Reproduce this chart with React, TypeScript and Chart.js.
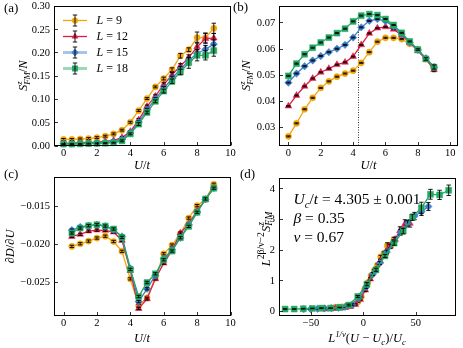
import { useEffect, useRef } from 'react';
import { Chart, registerables } from 'chart.js';
Chart.register(...registerables);

const W = 463;
const H = 348;

// ---------- data ----------
const U_FULL = [0, 0.5, 1, 1.5, 2, 2.5, 3, 3.5, 4, 4.5, 5, 5.5, 6, 6.5, 7, 7.5, 8, 8.5, 9];
const U_C = [0.5, 1, 1.5, 2, 2.5, 3, 3.5, 4, 4.5, 5, 5.5, 6, 6.5, 7, 7.5, 8, 8.5, 9];
const SIZES = ['9', '12', '15', '18'];

// (a) S_FM / N
const A9 = [0.013, 0.013, 0.014, 0.015, 0.017, 0.020, 0.025, 0.033, 0.050, 0.075, 0.101, 0.126, 0.144, 0.163, 0.193, 0.206, 0.232, 0.232, 0.252];
const A12 = [0.005, 0.005, 0.006, 0.0065, 0.007, 0.0087, 0.011, 0.017, 0.030, 0.055, 0.084, 0.106, 0.131, 0.152, 0.171, 0.189, 0.212, 0.230, 0.231];
const A15 = [0.004, 0.004, 0.0045, 0.005, 0.0055, 0.0065, 0.008, 0.013, 0.027, 0.050, 0.077, 0.100, 0.123, 0.144, 0.164, 0.183, 0.198, 0.207, 0.218];
const A18 = [0.003, 0.003, 0.0035, 0.004, 0.0045, 0.005, 0.006, 0.010, 0.025, 0.046, 0.071, 0.095, 0.117, 0.138, 0.158, 0.178, 0.194, 0.194, 0.204];
const EA9 = [0.002, 0.002, 0.002, 0.002, 0.002, 0.002, 0.002, 0.002, 0.002, 0.002, 0.002, 0.002, 0.003, 0.004, 0.005, 0.004, 0.012, 0.010, 0.011];
const EA12 = [0.001, 0.001, 0.001, 0.001, 0.001, 0.001, 0.001, 0.002, 0.002, 0.003, 0.003, 0.003, 0.004, 0.005, 0.005, 0.006, 0.010, 0.011, 0.010];
const EA15 = [0.001, 0.001, 0.001, 0.001, 0.001, 0.001, 0.001, 0.002, 0.002, 0.003, 0.003, 0.003, 0.004, 0.005, 0.006, 0.006, 0.008, 0.008, 0.009];
const EA18 = [0.001, 0.001, 0.001, 0.001, 0.001, 0.001, 0.001, 0.002, 0.002, 0.003, 0.003, 0.003, 0.004, 0.005, 0.006, 0.012, 0.012, 0.010, 0.012];

// (b) S^z_FM / N
const B9 = [0.0263, 0.0313, 0.0367, 0.0411, 0.0449, 0.0474, 0.0492, 0.0504, 0.0515, 0.0545, 0.0586, 0.0626, 0.0641, 0.0641, 0.0636, 0.0618, 0.0596, 0.0560, 0.0524];
const B12 = [0.0379, 0.0420, 0.0455, 0.0485, 0.0509, 0.0523, 0.0538, 0.0547, 0.0569, 0.0614, 0.0658, 0.0678, 0.0683, 0.0674, 0.0651, 0.0622, 0.0591, 0.0558, 0.0519];
const B15 = [0.0469, 0.0504, 0.0532, 0.0554, 0.0571, 0.0586, 0.0599, 0.0614, 0.0642, 0.0681, 0.0706, 0.0713, 0.0705, 0.0685, 0.0655, 0.0623, 0.0594, 0.0563, 0.0529];
const B18 = [0.0495, 0.0542, 0.0578, 0.0603, 0.0623, 0.0642, 0.0659, 0.0676, 0.0704, 0.0726, 0.0732, 0.0728, 0.0713, 0.0690, 0.0660, 0.0627, 0.0596, 0.0560, 0.0529];
const EB = [0.0002, 0.0002, 0.0002, 0.0002, 0.0002, 0.0002, 0.0002, 0.0002, 0.0002, 0.0002, 0.0002, 0.0002, 0.0002, 0.0002, 0.0002, 0.0002, 0.0003, 0.0005, 0.0008];
const U_CRIT = 4.305;
const U_CRIT_LINE_TOP = 0.0735;

// (c) dD/dU
const C9 = [-0.02035, -0.0200, -0.01965, -0.01925, -0.0190, -0.0197, -0.0210, -0.02465, -0.02819, -0.02717, -0.02451, -0.02133, -0.02018, -0.01867, -0.0166, -0.01496, -0.01411, -0.01212];
const C12 = [-0.01903, -0.01876, -0.01832, -0.01819, -0.01823, -0.01845, -0.01956, -0.02354, -0.02858, -0.0273, -0.02465, -0.02257, -0.02088, -0.01858, -0.01735, -0.01562, -0.01416, -0.01257];
const C15 = [-0.01819, -0.01779, -0.01761, -0.01748, -0.01766, -0.01814, -0.01903, -0.02327, -0.02766, -0.02597, -0.0242, -0.02199, -0.0208, -0.0192, -0.01748, -0.0158, -0.01411, -0.01261];
const C18 = [-0.01858, -0.01792, -0.01761, -0.01748, -0.01766, -0.01805, -0.01916, -0.0234, -0.02699, -0.02513, -0.02398, -0.02212, -0.02097, -0.0192, -0.0177, -0.01584, -0.01407, -0.01265];
const EC = [0.00015, 0.00015, 0.00015, 0.00015, 0.00015, 0.00015, 0.00015, 0.00015, 0.00015, 0.00015, 0.00015, 0.00015, 0.00015, 0.00015, 0.00015, 0.00015, 0.00015, 0.00015];

// (d) data collapse
const D9X = [-26.6, -23.5, -20.4, -17.3, -14.2, -11.1, -8.1, -5.0, -1.9, 1.2, 4.3, 7.4, 10.5, 13.5, 16.6, 19.7, 22.8, 25.9, 29.0];
const D9Y = [0.12, 0.12, 0.13, 0.14, 0.16, 0.18, 0.23, 0.30, 0.46, 0.69, 0.92, 1.15, 1.32, 1.49, 1.76, 1.88, 2.12, 2.12, 2.30];
const D12X = [-40.8, -36.1, -31.3, -26.6, -21.8, -17.1, -12.4, -7.6, -2.9, 1.9, 6.6, 11.3, 16.1, 20.8, 25.5, 30.3, 35.0, 39.8, 44.5];
const D12Y = [0.06, 0.06, 0.07, 0.08, 0.09, 0.11, 0.14, 0.21, 0.37, 0.68, 1.04, 1.31, 1.62, 1.88, 2.11, 2.33, 2.62, 2.84, 2.85];
const D15X = [-56.9, -50.3, -43.7, -37.1, -30.5, -23.9, -17.3, -10.6, -4.0, 2.6, 9.2, 15.8, 22.4, 29.0, 35.6, 42.3, 48.9, 55.5, 62.1];
const D15Y = [0.06, 0.06, 0.07, 0.08, 0.09, 0.10, 0.13, 0.20, 0.42, 0.78, 1.20, 1.56, 1.92, 2.24, 2.56, 2.85, 3.09, 3.23, 3.40];
const D18X = [-74.7, -66.0, -57.4, -48.7, -40.0, -31.3, -22.6, -14.0, -5.3, 3.4, 12.1, 20.7, 29.4, 38.1, 46.8, 55.4, 64.1, 72.8, 81.5];
const D18Y = [0.06, 0.06, 0.07, 0.08, 0.09, 0.09, 0.11, 0.19, 0.47, 0.87, 1.34, 1.79, 2.21, 2.60, 3.05, 3.36, 3.80, 3.78, 3.93];
const ED9 = [0.02, 0.02, 0.02, 0.02, 0.02, 0.02, 0.02, 0.02, 0.02, 0.02, 0.02, 0.02, 0.03, 0.04, 0.05, 0.04, 0.10, 0.09, 0.10];
const ED12 = [0.01, 0.01, 0.01, 0.01, 0.01, 0.01, 0.01, 0.02, 0.02, 0.04, 0.04, 0.04, 0.05, 0.06, 0.06, 0.07, 0.12, 0.13, 0.12];
const ED15 = [0.01, 0.01, 0.01, 0.01, 0.01, 0.01, 0.01, 0.03, 0.03, 0.05, 0.05, 0.05, 0.06, 0.08, 0.09, 0.09, 0.12, 0.12, 0.13];
const ED18 = [0.01, 0.01, 0.01, 0.01, 0.01, 0.01, 0.01, 0.03, 0.03, 0.05, 0.05, 0.05, 0.07, 0.09, 0.10, 0.18, 0.16, 0.15, 0.17];

// ticks
const A_XTICKS = [0, 2, 4, 6, 8, 10];
const A_XLABELS = ['0', '2', '4', '6', '8', '10'];
const A_YTICKS = [0, 0.05, 0.1, 0.15, 0.2, 0.25, 0.3];
const A_YLABELS = ['0.00', '0.05', '0.10', '0.15', '0.20', '0.25', '0.30'];
const B_YTICKS = [0.03, 0.04, 0.05, 0.06, 0.07];
const B_YLABELS = ['0.03', '0.04', '0.05', '0.06', '0.07'];
const C_YTICKS = [-0.025, -0.02, -0.015];
const C_YLABELS = ['\u22120.025', '\u22120.020', '\u22120.015'];
const D_XTICKS = [-50, 0, 50];
const D_XLABELS = ['\u221250', '0', '50'];
const D_YTICKS = [0, 1, 2, 3, 4];
const D_YLABELS = ['0', '1', '2', '3', '4'];

// ---------- styles ----------
const COLORS = ['#F2A60C', '#DC1E46', '#3F7FCC', '#22A862'];
const LEGEND_LINE = [
  { w: 1.3, a: 1 },
  { w: 1.3, a: 1 },
  { w: 3, a: 0.45 },
  { w: 3, a: 0.45 },
];
const MARKERS = ['circle', 'triangle', 'rectRot', 'rect'];
const RADII = [3.1, 3.9, 3.7, 4.2];
const FONT = '"Liberation Serif", "DejaVu Serif", serif';

type Seg = { t?: string; i?: boolean; sup?: string; sub?: string; supI?: boolean; subI?: boolean };
type Series = { x: number[]; y: number[]; e: number[] };
type Panel = {
  frame: [number, number, number, number];
  xr: [number, number];
  yr: [number, number];
  xt: number[];
  xl: string[];
  yt: number[];
  yl: string[];
  series: Series[];
  xTitle: Seg[];
  xTitleY: number;
  yTitle: Seg[];
  yTitleX: number;
  yTitleY?: number;
  yTitleSize?: number;
  yTitleScr?: number;
  label: string;
  labelPos: [number, number];
  legend?: boolean;
  kind: 'a' | 'b' | 'c' | 'd';
};

const fnt = (size: number, italic?: boolean) => `${italic ? 'italic ' : ''}${size}px ${FONT}`;

function segWidth(ctx: CanvasRenderingContext2D, s: Seg, size: number, scr: number) {
  let w = 0;
  if (s.t) {
    ctx.font = fnt(size, s.i);
    w += ctx.measureText(s.t).width;
  }
  let sw = 0;
  if (s.sup) {
    ctx.font = fnt(size * scr, s.supI);
    sw = Math.max(sw, ctx.measureText(s.sup).width);
  }
  if (s.sub) {
    ctx.font = fnt(size * scr, s.subI);
    sw = Math.max(sw, ctx.measureText(s.sub).width);
  }
  return w + sw;
}

function drawRich(
  ctx: CanvasRenderingContext2D,
  segs: Seg[],
  x: number,
  y: number,
  size: number,
  align: 'left' | 'center' | 'right',
  rot = 0,
  scr = 0.7
) {
  ctx.save();
  ctx.translate(x, y);
  if (rot) ctx.rotate(rot);
  let total = 0;
  for (const s of segs) total += segWidth(ctx, s, size, scr);
  let cx = align === 'center' ? -total / 2 : align === 'right' ? -total : 0;
  const base = size * 0.33;
  ctx.textAlign = 'left';
  ctx.textBaseline = 'alphabetic';
  ctx.fillStyle = '#000';
  for (const s of segs) {
    if (s.t) {
      ctx.font = fnt(size, s.i);
      ctx.fillText(s.t, cx, base);
      cx += ctx.measureText(s.t).width;
    }
    let sw = 0;
    if (s.sup) {
      ctx.font = fnt(size * scr, s.supI);
      ctx.fillText(s.sup, cx, base - size * 0.42);
      sw = Math.max(sw, ctx.measureText(s.sup).width);
    }
    if (s.sub) {
      ctx.font = fnt(size * scr, s.subI);
      ctx.fillText(s.sub, cx, base + size * 0.22);
      sw = Math.max(sw, ctx.measureText(s.sub).width);
    }
    cx += sw;
  }
  ctx.restore();
}

function drawErr(ctx: CanvasRenderingContext2D, px: number, y1: number, y2: number) {
  ctx.beginPath();
  ctx.moveTo(px, y1);
  ctx.lineTo(px, y2);
  ctx.moveTo(px - 2.2, y1);
  ctx.lineTo(px + 2.2, y1);
  ctx.moveTo(px - 2.2, y2);
  ctx.lineTo(px + 2.2, y2);
  ctx.stroke();
}

function drawMarker(ctx: CanvasRenderingContext2D, k: number, x: number, y: number) {
  ctx.save();
  ctx.fillStyle = COLORS[k];
  ctx.beginPath();
  const r = RADII[k];
  if (k === 0) ctx.arc(x, y, r, 0, Math.PI * 2);
  else if (k === 1) {
    ctx.moveTo(x, y - r);
    ctx.lineTo(x + r * 0.866, y + r * 0.5);
    ctx.lineTo(x - r * 0.866, y + r * 0.5);
    ctx.closePath();
  } else if (k === 2) {
    ctx.moveTo(x, y - r);
    ctx.lineTo(x + r, y);
    ctx.lineTo(x, y + r);
    ctx.lineTo(x - r, y);
    ctx.closePath();
  } else {
    const h = r * Math.SQRT1_2;
    ctx.rect(x - h, y - h, 2 * h, 2 * h);
  }
  ctx.fill();
  ctx.restore();
}

const U_T: Seg[] = [{ t: 'U', i: true }, { t: '/' }, { t: 't', i: true }];

const PANELS: Panel[] = [
  {
    kind: 'a',
    frame: [53.5, 6, 230.5, 145.5],
    xr: [-0.6, 10],
    yr: [0, 0.3],
    xt: A_XTICKS,
    xl: A_XLABELS,
    yt: A_YTICKS,
    yl: A_YLABELS,
    series: [
      { x: U_FULL, y: A9, e: EA9 },
      { x: U_FULL, y: A12, e: EA12 },
      { x: U_FULL, y: A15, e: EA15 },
      { x: U_FULL, y: A18, e: EA18 },
    ],
    xTitle: U_T,
    xTitleY: 164.5,
    yTitle: [{ t: 'S', i: true, sup: 'z', sub: 'FM', supI: true, subI: true }, { t: '/' }, { t: 'N', i: true }],
    yTitleX: 23,
    label: '(a)',
    labelPos: [4, 7.5],
    legend: true,
  },
  {
    kind: 'b',
    frame: [278.7, 6, 461, 145.5],
    xr: [-0.6, 10.5],
    yr: [0.0228, 0.0763],
    xt: A_XTICKS,
    xl: A_XLABELS,
    yt: B_YTICKS,
    yl: B_YLABELS,
    series: [
      { x: U_FULL, y: B9, e: EB },
      { x: U_FULL, y: B12, e: EB },
      { x: U_FULL, y: B15, e: EB },
      { x: U_FULL, y: B18, e: EB },
    ],
    xTitle: U_T,
    xTitleY: 164.5,
    yTitle: [{ t: 'S', i: true, sup: 'z', sub: 'FM', supI: true, subI: true }, { t: '/' }, { t: 'N', i: true }],
    yTitleX: 246,
    label: '(b)',
    labelPos: [233, 6.5],
  },
  {
    kind: 'c',
    frame: [53.5, 177.3, 230.5, 315.5],
    xr: [-0.6, 10],
    yr: [-0.0295, -0.0112],
    xt: A_XTICKS,
    xl: A_XLABELS,
    yt: C_YTICKS,
    yl: C_YLABELS,
    series: [
      { x: U_C, y: C9, e: EC },
      { x: U_C, y: C12, e: EC },
      { x: U_C, y: C15, e: EC },
      { x: U_C, y: C18, e: EC },
    ],
    xTitle: U_T,
    xTitleY: 337.7,
    yTitle: [{ t: '\u2202' }, { t: 'D', i: true }, { t: '/' }, { t: '\u2202' }, { t: 'U', i: true }],
    yTitleX: 9.5,
    label: '(c)',
    labelPos: [4, 174],
  },
  {
    kind: 'd',
    frame: [278.5, 178, 455.5, 315.5],
    xr: [-81, 88],
    yr: [-0.15, 4.33],
    xt: D_XTICKS,
    xl: D_XLABELS,
    yt: D_YTICKS,
    yl: D_YLABELS,
    series: [
      { x: D9X, y: D9Y, e: ED9 },
      { x: D12X, y: D12Y, e: ED12 },
      { x: D15X, y: D15Y, e: ED15 },
      { x: D18X, y: D18Y, e: ED18 },
    ],
    xTitle: [
      { t: 'L', i: true, sup: '1/\u03bd', supI: true },
      { t: '(' },
      { t: 'U', i: true },
      { t: ' \u2212 ' },
      { t: 'U', i: true, sub: 'c', subI: true },
      { t: ')/' },
      { t: 'U', i: true, sub: 'c', subI: true },
    ],
    xTitleY: 338,
    yTitle: [
      { t: 'L', i: true, sup: '2\u03b2/\u03bd\u22122' },
      { t: 'S', i: true, sup: 'z', sub: 'FM', supI: true, subI: true },
    ],
    yTitleX: 265.5,
    yTitleY: 239,
    yTitleSize: 12.5,
    yTitleScr: 0.78,
    label: '(d)',
    labelPos: [240, 174],
  },
];

function decoPlugin(p: Panel) {
  return {
    id: 'deco' + p.kind,
    beforeDatasetsDraw(chart: any) {
      if (p.kind !== 'b') return;
      const ctx: CanvasRenderingContext2D = chart.ctx;
      const xs = chart.scales.x;
      const ys = chart.scales.y;
      const px = Math.round(xs.getPixelForValue(U_CRIT)) + 0.5;
      ctx.save();
      ctx.strokeStyle = '#000';
      ctx.lineWidth = 0.8;
      ctx.setLineDash([1, 1.5]);
      ctx.beginPath();
      ctx.moveTo(px, ys.getPixelForValue(p.yr[0]));
      ctx.lineTo(px, ys.getPixelForValue(U_CRIT_LINE_TOP));
      ctx.stroke();
      ctx.restore();
    },
    afterDatasetDraw(chart: any, args: any) {
      const k = args.index;
      const s = p.series[k];
      const ctx: CanvasRenderingContext2D = chart.ctx;
      const xs = chart.scales.x;
      const ys = chart.scales.y;
      ctx.save();
      ctx.strokeStyle = '#000';
      ctx.lineWidth = 0.9;
      s.x.forEach((xv, i) => {
        const px = xs.getPixelForValue(xv);
        drawErr(ctx, px, ys.getPixelForValue(s.y[i] - s.e[i]), ys.getPixelForValue(s.y[i] + s.e[i]));
      });
      ctx.restore();
    },
    afterDraw(chart: any) {
      const ctx: CanvasRenderingContext2D = chart.ctx;
      const a = chart.chartArea;
      const xs = chart.scales.x;
      const ys = chart.scales.y;
      ctx.save();
      ctx.strokeStyle = '#000';
      ctx.lineWidth = 1;
      const L = Math.round(a.left) + 0.5;
      const T = Math.round(a.top) + 0.5;
      const R = Math.round(a.right) - 0.5;
      const B = Math.round(a.bottom) - 0.5;
      ctx.strokeRect(L, T, R - L, B - T);
      // ticks (inward)
      ctx.lineWidth = 0.8;
      ctx.fillStyle = '#000';
      const ts = 10.5;
      p.xt.forEach((v, i) => {
        const px = Math.round(xs.getPixelForValue(v)) + 0.5;
        ctx.beginPath();
        ctx.moveTo(px, B);
        ctx.lineTo(px, B - 3.5);
        ctx.stroke();
        drawRich(ctx, [{ t: p.xl[i] }], xs.getPixelForValue(v), a.bottom + 7.5, ts, 'center');
      });
      p.yt.forEach((v, i) => {
        const py = Math.round(ys.getPixelForValue(v)) + 0.5;
        ctx.beginPath();
        ctx.moveTo(L, py);
        ctx.lineTo(L + 3.5, py);
        ctx.stroke();
        drawRich(ctx, [{ t: p.yl[i] }], a.left - 3.5, ys.getPixelForValue(v), ts, 'right');
      });
      // titles
      drawRich(ctx, p.xTitle, (a.left + a.right) / 2, p.xTitleY, 12.5, 'center');
      drawRich(
        ctx,
        p.yTitle,
        p.yTitleX,
        p.yTitleY ?? (a.top + a.bottom) / 2,
        p.yTitleSize ?? 12.5,
        'center',
        -Math.PI / 2,
        p.yTitleScr ?? 0.7
      );
      drawRich(ctx, [{ t: p.label }], p.labelPos[0], p.labelPos[1], 13, 'left');
      // legend
      if (p.legend) {
        const x0 = 63;
        const x1 = 87;
        const xm = 75;
        SIZES.forEach((lab, k) => {
          const y = 20.5 + k * 16;
          ctx.save();
          ctx.globalAlpha = LEGEND_LINE[k].a;
          ctx.strokeStyle = COLORS[k];
          ctx.lineWidth = LEGEND_LINE[k].w;
          ctx.beginPath();
          ctx.moveTo(x0, y);
          ctx.lineTo(x1, y);
          ctx.stroke();
          ctx.restore();
          drawMarker(ctx, k, xm, y);
          ctx.strokeStyle = '#000';
          ctx.lineWidth = 0.9;
          drawErr(ctx, xm, y - 5.5, y + 5.5);
          drawRich(ctx, [{ t: 'L', i: true }, { t: ' = ' + lab }], 96.5, y, 12, 'left');
        });
      }
      // annotation in (d)
      if (p.kind === 'd') {
        const ax = 293.5;
        drawRich(
          ctx,
          [{ t: 'U', i: true, sub: 'c', subI: true }, { t: '/' }, { t: 't', i: true }, { t: ' = 4.305 \u00b1 0.001' }],
          ax,
          199,
          15.5,
          'left'
        );
        drawRich(ctx, [{ t: '\u03b2', i: true }, { t: ' = 0.35' }], ax, 218.3, 15.5, 'left');
        drawRich(ctx, [{ t: '\u03bd', i: true }, { t: ' = 0.67' }], ax, 236.7, 15.5, 'left');
      }
      ctx.restore();
    },
  };
}

function PanelChart({ p }: { p: Panel }) {
  const ref = useRef<HTMLCanvasElement>(null);
  useEffect(() => {
    const canvas = ref.current;
    if (!canvas) return;
    const [l, t, r, b] = p.frame;
    const chart = new Chart(canvas, {
      type: 'line',
      data: {
        datasets: p.series.map((s, k) => ({
          label: 'L = ' + SIZES[k],
          data: s.x.map((x, i) => ({ x, y: s.y[i] })),
          borderColor: COLORS[k],
          backgroundColor: COLORS[k],
          borderWidth: 1.3,
          pointStyle: MARKERS[k] as any,
          pointRadius: RADII[k],
          pointBorderWidth: 0.5,
          pointBorderColor: COLORS[k],
          pointBackgroundColor: COLORS[k],
          tension: 0,
          order: 3 - k,
          clip: false as any,
        })),
      },
      options: {
        responsive: false,
        animation: false,
        events: [],
        devicePixelRatio: 1,
        layout: { padding: { left: l, top: t, right: W - r, bottom: H - b } },
        scales: {
          x: { type: 'linear', min: p.xr[0], max: p.xr[1], display: false },
          y: { type: 'linear', min: p.yr[0], max: p.yr[1], display: false },
        },
        plugins: { legend: { display: false }, tooltip: { enabled: false } },
      },
      plugins: [decoPlugin(p) as any],
    });
    return () => chart.destroy();
  }, []);
  return (
    <canvas
      ref={ref}
      width={W}
      height={H}
      style={{ position: 'absolute', left: 0, top: 0, width: W, height: H }}
    />
  );
}

export default function App() {
  return (
    <div style={{ position: 'fixed', left: 0, top: 0, width: W, height: H, background: '#fff', overflow: 'hidden' }}>
      {PANELS.map((p) => (
        <PanelChart key={p.kind} p={p} />
      ))}
    </div>
  );
}
